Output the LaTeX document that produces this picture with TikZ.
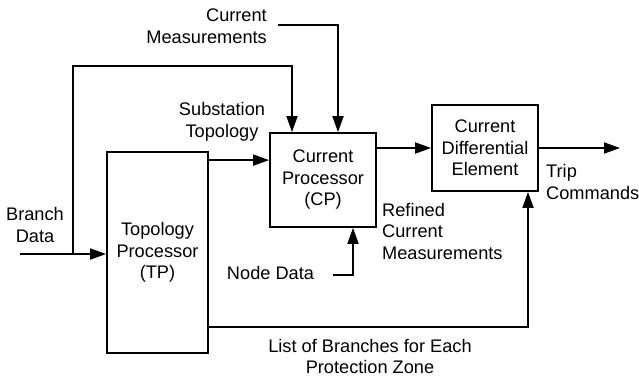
\documentclass[tikz,border=0pt]{standalone}
\usepackage{fontspec}
\setmainfont{Liberation Sans}
\usetikzlibrary{arrows.meta}
\begin{document}
\begin{tikzpicture}[x=1bp,y=-1bp,
  every node/.style={font=\fontsize{18.2bp}{21.5bp}\selectfont},
  block/.style={draw,line width=1.8bp,align=center,inner sep=0pt},
  lbl/.style={inner sep=0pt},
  wire/.style={line width=1.8bp},
  arr/.style={wire,-{Triangle[length=16bp,width=11bp]}}]
\useasboundingbox (0,0) rectangle (639,380);

% processing blocks
\node[block,minimum width=101bp,minimum height=201bp] (TP) at (157.5,252.5) {Topology\\Processor\\(TP)};
\node[block,minimum width=106bp,minimum height=94bp] (CP) at (323,180) {Current\\Processor\\(CP)};
\node[block,minimum width=106bp,minimum height=86bp] (CDE) at (485,148) {Current\\Differential\\Element};

% free ends of the input and output wires
\coordinate (bd) at (20,254);
\coordinate (tap) at (73,254);
\coordinate (cm) at (278,25);
\coordinate (nd) at (333,275);
\coordinate (trip) at (620,148);

% labels
\node[lbl,align=right,anchor=east] (lcm) at (267,26) {Current\\Measurements};
\node[lbl,align=center] (lst) at (222,122) {Substation\\Topology};
\node[lbl,align=center] (lbd) at (35,225) {Branch\\Data};
\node[lbl] (lnd) at (270.5,273) {Node Data};
\node[lbl,align=left,anchor=west] (lrc) at (382,231) {Refined\\Current\\Measurements};
\node[lbl,align=left,anchor=west] (ltc) at (546,182) {Trip\\Commands};
\node[lbl,align=center] (lls) at (370,356.5) {List of Branches for Each\\Protection Zone};

% connectors
\draw[arr] (bd) -- (bd -| TP.west);
\draw[arr] (tap) |- (73,66) -| ([xshift=-31bp]CP.north);
\draw[arr] (cm) -| ([xshift=15bp]CP.north);
\draw[arr] ([yshift=-9bp]TP.north east) -- ([yshift=-9bp]TP.north east -| CP.west);
\draw[arr] (CDE.west -| CP.east) -- (CDE.west);
\draw[arr] (CDE.east) -- (trip);
\draw[arr] (nd) -| ([xshift=30bp]CP.south);
\draw[arr] ([yshift=27bp]TP.south east) -| ([xshift=43bp]CDE.south);
\end{tikzpicture}
\end{document}
